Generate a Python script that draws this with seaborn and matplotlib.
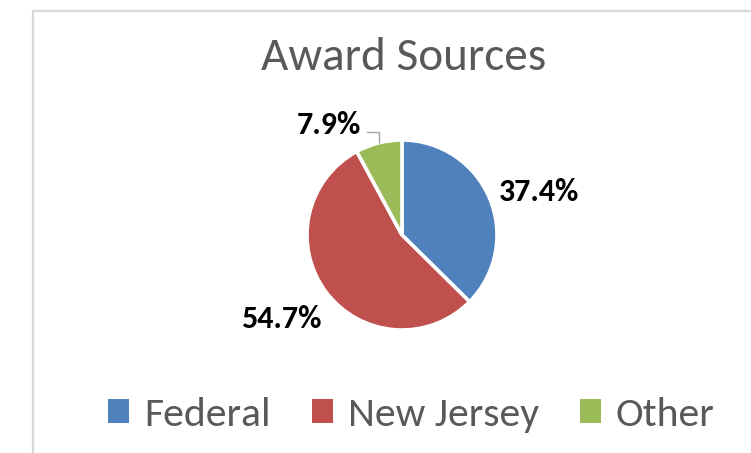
import numpy as np
import matplotlib
matplotlib.use("Agg")
import matplotlib.pyplot as plt
from matplotlib import font_manager
import seaborn as sns

# ---- data ----
categories = ["Federal", "New Jersey", "Other"]
shares = [37.4, 54.7, 7.9]
label_texts = ["37.4%", "54.7%", "7.9%"]
title_text = "Award Sources"

# ---- style ----
colors = ["#4F81BD", "#C0504D", "#9BBB59"]
text_gray = "#595959"

sns.set_theme(style="white")
avail = {f.name for f in font_manager.fontManager.ttflist}
fam = [f for f in ["Carlito", "Liberation Sans Narrow", "Lato", "DejaVu Sans"] if f in avail]
plt.rcParams["font.family"] = fam

W, H = 751, 453
fig = plt.figure(figsize=(W / 100, H / 100), dpi=100)
fig.patch.set_facecolor("white")

# chart border (left and top visible)
border = plt.Rectangle((32.5 / W, -0.1), 1.0, (H - 10.5) / H + 0.1, transform=fig.transFigure,
                       fill=False, edgecolor="#D9D9D9", linewidth=1.6)
fig.add_artist(border)

# pie axes: center (402,235) px, radius 95 px
R = 95
cx, cy = 402, 235
lim = 2.0
ax = fig.add_axes([(cx - lim * R) / W, (H - cy - lim * R) / H, 2 * lim * R / W, 2 * lim * R / H])
wedges, _ = ax.pie(shares, colors=sns.color_palette(colors), startangle=90, counterclock=False,
                   wedgeprops=dict(edgecolor="white", linewidth=2.6))
ax.set_xlim(-lim, lim)
ax.set_ylim(-lim, lim)
ax.set_aspect("equal")
ax.axis("off")

label_radius = [1.51, 1.55, 1.39]
label_angle_shift = [-5.3, -1.9, 19.4]
for w, txt, rr, da in zip(wedges, label_texts, label_radius, label_angle_shift):
    th = np.deg2rad((w.theta1 + w.theta2) / 2 + da)
    ax.text(rr * np.cos(th), rr * np.sin(th), txt, ha="center", va="center",
            fontsize=23, fontweight="bold", color="black")

# leader line for the small slice
w = wedges[2]
thm = np.deg2rad((w.theta1 + w.theta2) / 2)
p0 = np.array([np.cos(thm), np.sin(thm)])
ax.plot([p0[0], p0[0], p0[0] - 0.12], [p0[1], p0[1] + 0.11, p0[1] + 0.11],
        color="#A6A6A6", linewidth=1.0, clip_on=False)

fig.text(403.5 / W, 1 - 70 / H, title_text, ha="center", va="baseline",
         fontsize=34, color=text_gray)

leg = fig.legend(wedges, categories, loc="center", bbox_to_anchor=(411.5 / W, 1 - 415 / H),
                 ncol=3, frameon=False, fontsize=30, handlelength=0.5, handleheight=0.5,
                 handletextpad=0.35, columnspacing=1.0, labelcolor=text_gray)
for h in leg.legend_handles:
    h.set_edgecolor("none")

fig.savefig("out.png", dpi=100, facecolor="white")
